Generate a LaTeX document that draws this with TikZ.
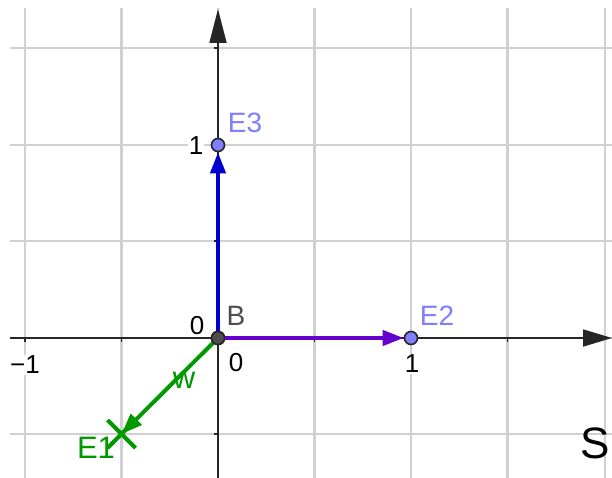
\documentclass[tikz,border=0pt]{standalone}
\usepackage{fontspec}
\setmainfont{Liberation Sans}
\usetikzlibrary{arrows.meta,shapes.misc}
\definecolor{gridc}{HTML}{D0D0D0}
\definecolor{axisc}{HTML}{262626}
\definecolor{bluev}{HTML}{0000CC}
\definecolor{purplev}{HTML}{6600CC}
\definecolor{greenv}{HTML}{009900}
\definecolor{ptfill}{HTML}{7F7FFF}
\definecolor{bgray}{HTML}{4D4D4D}
\tikzset{
  gridline/.style={gridc, line width=2.2pt},
  axisline/.style={axisc, line width=1.8pt},
  vec/.style={line width=4pt, -{Triangle[length=21pt,width=15pt]}},
  pt/.style={circle, draw=axisc, line width=1.6pt, inner sep=0pt, minimum size=13pt},
  num/.style={font=\fontsize{26}{28}\selectfont, text=black, fill=white, inner sep=1pt},
  lab/.style={font=\fontsize{28}{30}\selectfont, inner sep=0pt},
  glab/.style={font=\fontsize{31}{34}\selectfont, text=greenv, inner sep=0pt},
}
\begin{document}
\begin{tikzpicture}[x=1pt,y=-1pt]
\useasboundingbox (0,0) rectangle (612,478);
\fill[white] (0,0) rectangle (612,478);
% grid
\foreach \x in {25,121.5,218,314.5,411,507.5,605}
  \draw[gridline] (\x,8) -- (\x,478);
\foreach \y in {48,145,241,338,434}
  \draw[gridline] (10,\y) -- (612,\y);
% axis numbers
\node[num] (nm1) at (25,365) {−1};
\node[num] (n0a) at (197,326) {0};
\node[num] (n0b) at (236,363) {0};
\node[num] (n1x) at (412,364) {1};
\node[num] (n1y) at (196,146) {1};
% axes
\coordinate (xl) at (10,338);
\coordinate (xr) at (612,338);
\coordinate (yb) at (218,478);
\coordinate (yt) at (218,9);
\draw[axisline, -{Triangle[length=29pt,width=17pt]}] (xl) -- (xr);
\draw[axisline, -{Triangle[length=34pt,width=17pt]}] (yb) -- (yt);
\foreach \x in {25,121.5,314.5,411,507.5}
  \draw[axisline] (\x,338) -- (\x,342);
\foreach \y in {48,145,241,434}
  \draw[axisline] (218,\y) -- (214,\y);
% points
\node[pt, fill=bgray] (B) at (218,338) {};
\node[pt, fill=ptfill] (E2) at (411,338) {};
\node[pt, fill=ptfill] (E3) at (218,145) {};
\node[cross out, draw=greenv, line width=4pt, minimum size=24pt, inner sep=0pt] (E1) at (121.5,434) {};
% vectors
\draw[vec, bluev] (B) -- (E3);
\draw[vec, purplev] (B) -- (E2);
\draw[vec, greenv] (B.center) -- (E1.center);
\node[pt, fill=bgray] at (B) {};
% labels
\node[lab, text=bgray] (lB) at (236,316) {B};
\node[lab, text=ptfill] (lE2) at (437,316) {E2};
\node[lab, text=ptfill] (lE3) at (245,123) {E3};
\node[glab] (lE1) at (96,448) {E1};
\node[glab] (lw) at (184,380) {w};
\node[font=\fontsize{44}{46}\selectfont, inner sep=0pt] (S) at (595,443) {S};
\end{tikzpicture}
\end{document}
